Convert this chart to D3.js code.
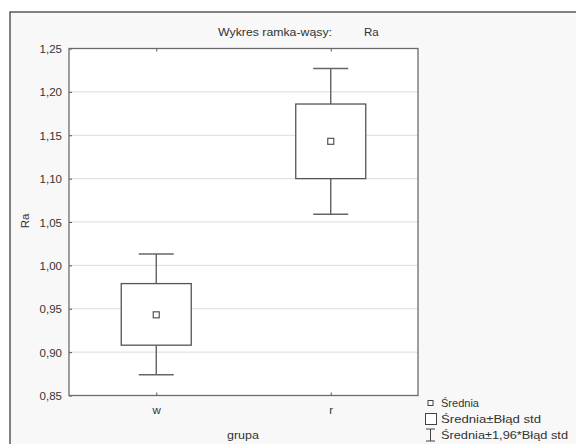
<!DOCTYPE html>
<html><head><meta charset="utf-8">
<script src="https://cdn.jsdelivr.net/npm/d3@7"></script>
<style>body{margin:0;background:#fff}svg{display:block}text{font-family:"Liberation Sans",Arial,sans-serif;fill:#333}</style>
</head><body><div id="chart"></div>
<script>
const categories = ["w", "r"];
const means = [0.943, 1.143];
const boxLow = [0.908, 1.100];
const boxHigh = [0.979, 1.186];
const whiskLow = [0.874, 1.059];
const whiskHigh = [1.013, 1.227];
const yTicks = [0.85, 0.90, 0.95, 1.00, 1.05, 1.10, 1.15, 1.20, 1.25];
const legendLabels = ["Średnia", "Średnia±Błąd std", "Średnia±1,96*Błąd std"];
const title = "Wykres ramka-wąsy:";
const titleVar = "Ra";
const yLabel = "Ra";
const xLabel = "grupa";

const W = 576, H = 444;
const svg = d3.select("#chart").append("svg").attr("width", W).attr("height", H);
svg.append("rect").attr("x", 10).attr("y", 12).attr("width", W).attr("height", H)
  .attr("fill", "#f8f8f8").attr("stroke", "#333").attr("stroke-width", 1.2);

const L = 69, T = 48.5, R = 418, B = 395.5;
const x = d3.scalePoint().domain(categories).range([L, R]).padding(0.5);
const y = d3.scaleLinear().domain([0.85, 1.25]).range([B, T]);
const fmt = d => d3.format(".2f")(d).replace(".", ",");

svg.append("rect").attr("x", L).attr("y", T).attr("width", R - L).attr("height", B - T).attr("fill", "#fff");

// gridlines
svg.append("g").selectAll("line").data(yTicks.slice(1, -1)).join("line")
  .attr("x1", L).attr("x2", R).attr("y1", d => y(d)).attr("y2", d => y(d))
  .attr("stroke", "#dcdcdc").attr("stroke-width", 1);

// axes
const yAxis = svg.append("g").attr("transform", `translate(${L},0)`)
  .call(d3.axisLeft(y).tickValues(yTicks).tickFormat(fmt).tickSize(-3).tickPadding(7));
const xAxis = svg.append("g").attr("transform", `translate(0,${B})`)
  .call(d3.axisBottom(x).tickSize(-3).tickPadding(10));
const xTop = svg.append("g").attr("transform", `translate(0,${T})`)
  .call(d3.axisTop(x).tickSize(-3).tickFormat(""));
[yAxis, xAxis, xTop].forEach(g => {
  g.select(".domain").remove();
  g.selectAll(".tick line").attr("stroke", "#555");
  g.selectAll("text").attr("font-size", 11.5).attr("fill", "#333")
   .attr("font-family", '"Liberation Sans",Arial,sans-serif');
});
yAxis.selectAll(".tick text").attr("dy", "0.35em");

svg.append("rect").attr("x", L).attr("y", T).attr("width", R - L).attr("height", B - T)
  .attr("fill", "none").attr("stroke", "#6a6a6a").attr("stroke-width", 1.3);

// boxes
const bw = 70, cap = 35;
const g = svg.append("g");
categories.forEach((c, i) => {
  const cx = x(c);
  g.append("line").attr("x1", cx).attr("x2", cx).attr("y1", y(whiskHigh[i])).attr("y2", y(boxHigh[i]))
    .attr("stroke", "#555").attr("stroke-width", 1.3);
  g.append("line").attr("x1", cx).attr("x2", cx).attr("y1", y(boxLow[i])).attr("y2", y(whiskLow[i]))
    .attr("stroke", "#555").attr("stroke-width", 1.3);
  [whiskHigh[i], whiskLow[i]].forEach(v => {
    g.append("line").attr("x1", cx - cap / 2).attr("x2", cx + cap / 2).attr("y1", y(v)).attr("y2", y(v))
      .attr("stroke", "#666").attr("stroke-width", 1.5);
  });
  g.append("rect").attr("x", cx - bw / 2).attr("y", y(boxHigh[i])).attr("width", bw)
    .attr("height", y(boxLow[i]) - y(boxHigh[i])).attr("fill", "#fff").attr("stroke", "#555").attr("stroke-width", 1.3);
  g.append("rect").attr("x", cx - 3).attr("y", y(means[i]) - 3).attr("width", 6).attr("height", 6)
    .attr("fill", "#fff").attr("stroke", "#555").attr("stroke-width", 1.2);
});

// titles
svg.append("text").attr("x", 218).attr("y", 36).attr("font-size", 11.5)
  .attr("textLength", 114).attr("lengthAdjust", "spacingAndGlyphs").text(title);
svg.append("text").attr("x", 364).attr("y", 36).attr("font-size", 11.5).text(titleVar);
svg.append("text").attr("transform", `translate(29,221) rotate(-90)`).attr("text-anchor", "middle")
  .attr("font-size", 11.5).text(yLabel);
svg.append("text").attr("x", 227).attr("y", 439).attr("font-size", 11.5)
  .attr("textLength", 32).attr("lengthAdjust", "spacingAndGlyphs").text(xLabel);

// legend
const lg = svg.append("g");
const ly = [403, 419, 435];
const lw = [38, 100, 127];
lg.append("rect").attr("x", 428).attr("y", ly[0] - 2.5).attr("width", 5).attr("height", 5)
  .attr("fill", "#fff").attr("stroke", "#444").attr("stroke-width", 1);
lg.append("rect").attr("x", 425.5).attr("y", ly[1] - 5.5).attr("width", 11).attr("height", 11)
  .attr("fill", "#fff").attr("stroke", "#444").attr("stroke-width", 1);
lg.append("path").attr("d", `M426,${ly[2]-6}H435M430.5,${ly[2]-6}V${ly[2]+6}M426,${ly[2]+6}H435`)
  .attr("fill", "none").attr("stroke", "#444").attr("stroke-width", 1);
legendLabels.forEach((t, i) => {
  lg.append("text").attr("x", 441).attr("y", ly[i]).attr("dy", "0.35em").attr("font-size", 11.5)
    .attr("textLength", lw[i]).attr("lengthAdjust", "spacingAndGlyphs").text(t);
});
</script></body></html>
